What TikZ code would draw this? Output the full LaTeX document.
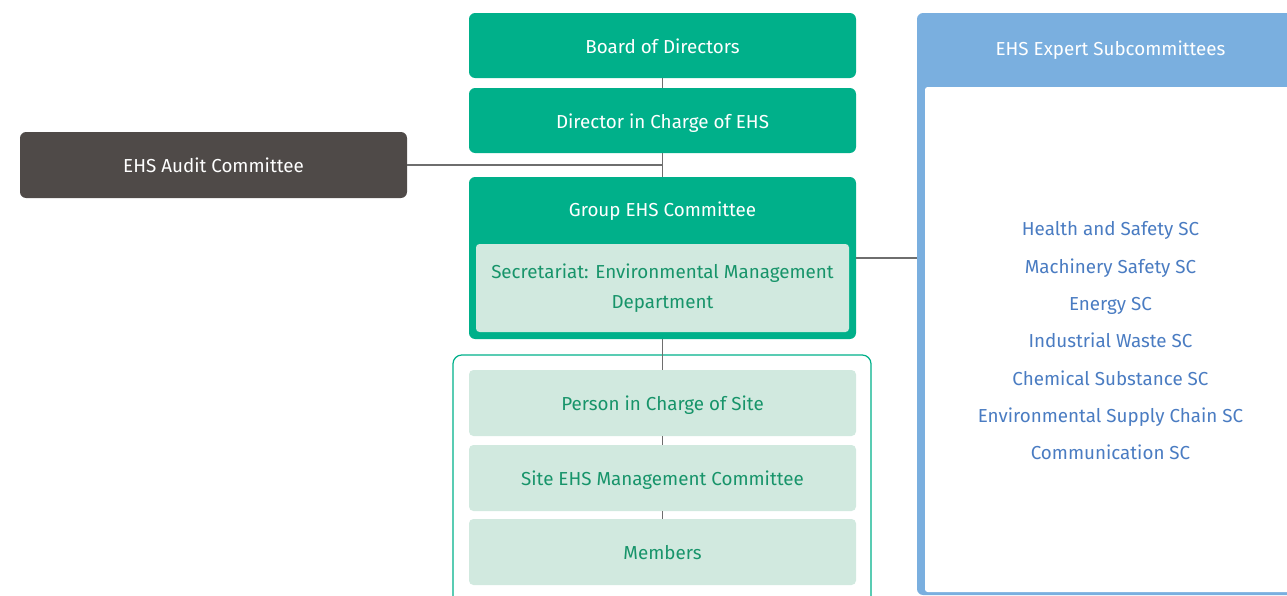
\documentclass[tikz,border=0pt]{standalone}
\usepackage{fontspec}
\setmainfont{Fira Sans}
\usepackage{tikz}
\usetikzlibrary{positioning}
\definecolor{ehsgreen}{HTML}{00B08A}
\definecolor{palegreen}{HTML}{D1E9DF}
\definecolor{textgreen}{HTML}{17946A}
\definecolor{auditgray}{HTML}{4F4A48}
\definecolor{skyblue}{HTML}{7AAFDF}
\definecolor{textblue}{HTML}{4A7CC2}
\definecolor{linegray}{HTML}{6E6E6E}

\begin{document}
\begin{tikzpicture}[
    every node/.style={font=\fontsize{10.7}{17}\selectfont, text height=9.4pt, text depth=0.4pt},
    mainbox/.style={rectangle, rounded corners=3.5pt, fill=ehsgreen, text=white, minimum width=7.74cm, minimum height=1.30cm, align=center},
    sitebox/.style={rectangle, rounded corners=2.5pt, fill=palegreen, text=textgreen, minimum width=7.74cm, minimum height=1.32cm, align=center},
    link/.style={draw=linegray, line width=0.6pt}
]
    \useasboundingbox (0,0) rectangle (25.74,-11.92);
    \clip (0,0) rectangle (25.74,-11.92);

    % EHS Expert Subcommittees panel on the right
    \node[rectangle, rounded corners=3.5pt, fill=skyblue, minimum width=7.74cm, minimum height=11.64cm] (subc) at (22.21, -6.08) {};
    \node[rectangle, rounded corners=1.5pt, fill=white, minimum width=7.42cm, minimum height=10.10cm] (subcin) at (22.21, -6.79) {};
    \node[text=white] (subctitle) at (22.21, -0.96) {EHS Expert Subcommittees};
    \foreach \name/\ypos in {Health and Safety SC/-4.56, Machinery Safety SC/-5.31, Energy SC/-6.06,
        Industrial Waste SC/-6.80, Chemical Substance SC/-7.55, Environmental Supply Chain SC/-8.30,
        Communication SC/-9.04}
        \node[text=textblue] at (22.21, \ypos) {\name};

    % Site frame (cut off at the bottom)
    \draw[draw=ehsgreen, line width=0.7pt, rounded corners=5pt] (9.06, -7.10) rectangle (17.42, -12.3);

    % Top of the hierarchy
    \node[mainbox] (board) at (13.25, -0.91) {Board of Directors};
    \node[mainbox] (director) at (13.25, -2.41) {Director in Charge of EHS};
    \node[rectangle, rounded corners=3.5pt, fill=auditgray, text=white, minimum width=7.74cm, minimum height=1.32cm] (audit) at (4.27, -3.30) {EHS Audit Committee};

    % Group EHS Committee with its secretariat
    \node[mainbox, minimum height=3.24cm] (group) at (13.25, -5.16) {};
    \node[text=white] (grouptitle) at (13.25, -4.18) {Group EHS Committee};
    \node[rectangle, rounded corners=2pt, fill=palegreen, text=textgreen, minimum width=7.46cm, minimum height=1.76cm, align=center, text height=, text depth=] (secr) at (13.25, -5.76) {Secretariat: Environmental Management\\Department};

    % Site level
    \node[sitebox] (person) at (13.25, -8.06) {Person in Charge of Site};
    \node[sitebox] (sitec) at (13.25, -9.56) {Site EHS Management Committee};
    \node[sitebox] (members) at (13.25, -11.04) {Members};

    % Connectors
    \draw[link] (board.south) -- (director.north);
    \draw[link] (director.south) -- (group.north);
    \draw[link] (audit.east) -- (audit.east -| director.south);
    \draw[link] (group.east) -- (group.east -| subc.west);
    \draw[link] (group.south) -- (person.north);
    \draw[link] (person.south) -- (sitec.north);
    \draw[link] (sitec.south) -- (members.north);
\end{tikzpicture}
\end{document}
